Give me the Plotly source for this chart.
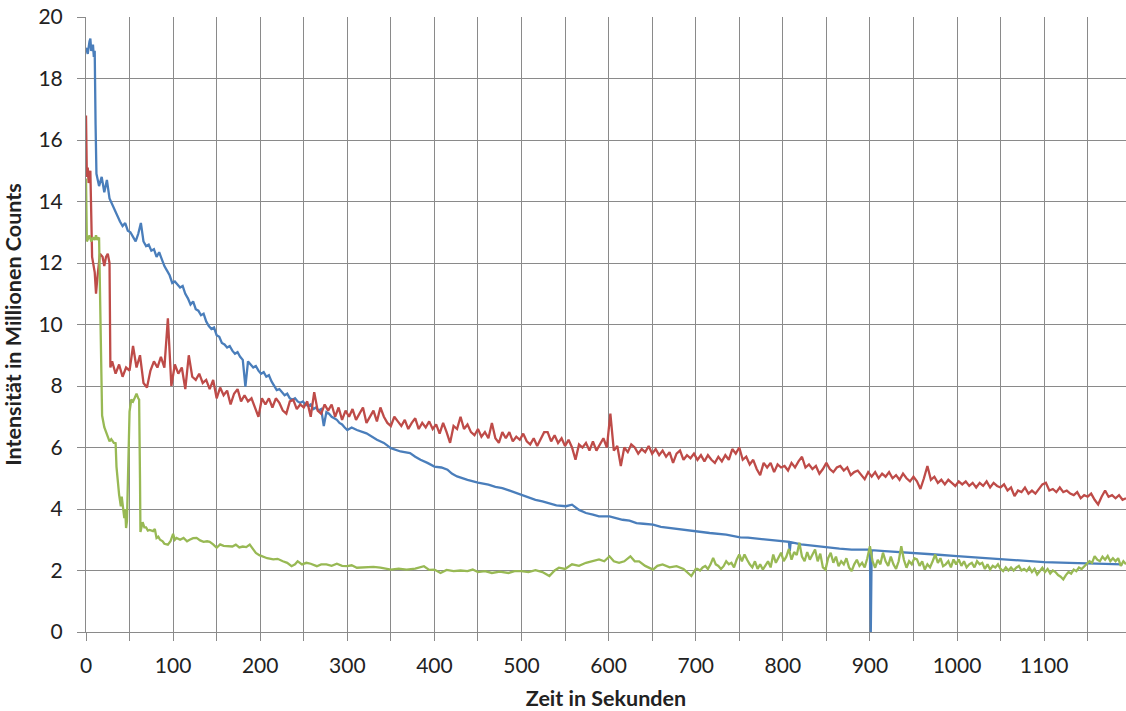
import plotly.graph_objects as go

# ---------------- Blue series (time in s, intensity in million counts) ----------------
blue_early_t = [0, 2, 4, 5, 6, 8, 9, 10, 11]
blue_early_v = [19.0, 18.8, 19.2, 19.3, 18.9, 19.1, 18.7, 18.9, 16.5]
blue_mid_t = list(range(12, 301, 3))
blue_mid_v = [14.9, 14.5, 14.8, 14.3, 14.7, 14.1, 13.9, 13.7, 13.5, 13.35, 13.2, 13.3, 13.05, 13.0, 12.85, 12.7, 12.95, 13.3, 12.7, 12.55,
              12.6, 12.4, 12.45, 12.2, 12.35, 12.1, 11.9, 11.75, 11.6, 11.35, 11.4, 11.3, 11.2, 11.25, 11.0, 10.85, 10.65, 10.75, 10.5, 10.45,
              10.3, 10.35, 10.1, 9.95, 9.85, 9.9, 9.65, 9.6, 9.4, 9.35, 9.25, 9.3, 9.15, 9.05, 9.1, 8.95, 8.85, 7.98, 8.8, 8.7,
              8.6, 8.65, 8.5, 8.4, 8.45, 8.3, 8.35, 8.15, 8.0, 7.87, 7.9, 7.8, 7.7, 7.75, 7.6, 7.55, 7.6, 7.5, 7.45, 7.5,
              7.4, 7.35, 7.4, 7.25, 7.3, 7.2, 7.25, 6.7, 7.15, 7.1, 7.0, 6.95, 6.9, 6.8, 6.75, 6.65, 6.57]
blue_late_t = [305, 311, 322, 328, 334, 342, 350, 361, 372, 378, 384, 392, 400, 408, 415, 420, 426, 438, 444, 450, 462, 470, 478, 489,
               500, 508, 516, 524, 531, 540, 551, 558, 566, 574, 582, 589, 601, 608, 616, 624, 632, 640, 651, 660, 670, 685, 701, 716,
               735, 744, 751, 760, 770, 783, 800, 807, 808, 809, 821, 835, 850, 865, 879, 890, 900, 901, 902, 917, 935, 950, 975, 1000,
               1015, 1029, 1050, 1075, 1100, 1129, 1151, 1167, 1190]
blue_late_v = [6.65, 6.57, 6.46, 6.35, 6.25, 6.15, 5.98, 5.87, 5.82, 5.7, 5.6, 5.5, 5.38, 5.35, 5.28, 5.15, 5.06, 4.95, 4.9, 4.86, 4.79, 4.72, 4.68, 4.57,
               4.46, 4.38, 4.3, 4.25, 4.19, 4.12, 4.09, 4.14, 3.97, 3.87, 3.82, 3.76, 3.76, 3.7, 3.65, 3.62, 3.54, 3.52, 3.49, 3.42, 3.38, 3.33, 3.28, 3.22,
               3.17, 3.12, 3.08, 3.07, 3.04, 3.01, 2.96, 2.93, 2.63, 2.92, 2.85, 2.8, 2.74, 2.71, 2.68, 2.67, 2.68, 0.0, 2.66, 2.63, 2.6, 2.58, 2.52, 2.47,
               2.44, 2.41, 2.38, 2.34, 2.27, 2.25, 2.23, 2.22, 2.2]

# ---------------- Red series ----------------
red_early_t = [0, 1, 2, 3, 5, 6, 7, 10, 11.5, 13, 16, 19, 21, 23, 25, 27, 28]
red_early_v = [16.8, 14.8, 15.1, 14.6, 15.0, 14.0, 12.2, 11.7, 11.0, 11.5, 12.3, 12.2, 11.9, 12.2, 12.3, 12.0, 8.6]
red_main_t = list(range(30, 1195, 4))
red_main_v = [8.8, 8.4, 8.7, 8.3, 8.6, 8.5, 9.3, 8.6, 9.0, 8.1, 7.95, 8.5, 8.8, 8.6, 8.95, 8.6, 10.2, 8.0, 8.7, 8.4, 8.6, 7.9, 9.0, 8.3, 8.2,
              8.4, 8.1, 8.2, 7.9, 8.2, 7.6, 7.95, 7.7, 7.85, 7.4, 7.75, 7.9, 7.5, 7.7, 7.5, 7.6, 7.3, 7.0, 7.6, 7.4, 7.6, 7.3, 7.6, 7.45, 7.2,
              7.1, 7.5, 7.55, 7.25, 7.4, 7.3, 7.5, 7.0, 7.8, 7.2, 7.1, 7.4, 7.2, 7.4, 7.0, 7.3, 6.9, 7.2, 7.0, 7.25, 6.9, 7.1, 7.3, 6.8, 7.0,
              7.2, 6.85, 7.3, 7.0, 6.8, 6.7, 7.0, 6.85, 6.7, 6.9, 6.6, 6.8, 6.95, 6.6, 6.8, 6.65, 6.85, 6.6, 6.75, 6.45, 6.8, 6.5, 6.15, 6.7, 6.6,
              7.0, 6.6, 6.75, 6.5, 6.4, 6.6, 6.35, 6.5, 6.3, 6.8, 6.3, 6.15, 6.5, 6.3, 6.5, 6.2, 6.35, 6.25, 6.45, 6.2, 6.1, 6.3, 6.05, 6.3, 6.5,
              6.5, 6.2, 6.4, 6.15, 6.3, 6.05, 6.25, 6.0, 5.6, 6.1, 6.0, 6.15, 5.9, 6.2, 5.9, 6.1, 6.3, 6.0, 7.1, 5.9, 6.05, 5.4, 6.0, 5.85, 6.1,
              6.0, 5.8, 5.95, 5.85, 6.05, 5.8, 5.95, 5.75, 5.9, 5.7, 5.85, 5.5, 5.8, 5.9, 5.6, 5.75, 5.65, 5.8, 5.6, 5.75, 5.55, 5.75, 5.6, 5.5, 5.7,
              5.55, 5.75, 5.6, 5.95, 5.8, 6.0, 5.6, 5.7, 5.45, 5.6, 5.3, 5.1, 5.5, 5.35, 5.5, 5.2, 5.45, 5.35, 5.4, 5.25, 5.5, 5.35, 5.55, 5.7, 5.35,
              5.45, 5.3, 5.4, 5.15, 5.3, 5.5, 5.3, 5.2, 5.35, 5.4, 5.25, 5.35, 5.1, 5.2, 5.25, 5.1, 4.97, 5.2, 5.05, 5.2, 5.0, 5.15, 5.05, 5.2, 5.0,
              5.1, 4.95, 5.15, 5.0, 4.9, 5.05, 4.9, 4.65, 5.0, 5.4, 4.95, 5.05, 4.85, 4.95, 4.8, 4.95, 4.85, 4.75, 4.9, 4.8, 4.9, 4.75, 4.85, 4.7, 4.85,
              4.75, 4.9, 4.7, 4.85, 4.75, 4.7, 4.8, 4.6, 4.7, 4.42, 4.6, 4.55, 4.7, 4.5, 4.6, 4.5, 4.65, 4.8, 4.85, 4.6, 4.65, 4.55, 4.7, 4.55, 4.6,
              4.5, 4.45, 4.55, 4.35, 4.45, 4.4, 4.5, 4.3, 4.15, 4.4, 4.6, 4.4, 4.45, 4.35, 4.45, 4.3, 4.35]

# ---------------- Green series ----------------
green_early_t = [0, 1, 4, 6, 8, 10, 11.5, 13, 15, 16, 17, 18.5, 21, 23, 25, 27, 29, 32, 34, 35, 38, 40, 41, 42, 44, 45, 46, 47, 48.5, 50,
                 52, 54, 56, 58, 60, 61, 62, 62.5, 65, 67, 69, 71, 73, 77, 79, 81, 83, 85, 88, 90, 94, 97, 100, 102, 104, 108, 112, 116,
                 119, 123, 127, 131, 135, 139, 142, 146, 150, 154, 158, 163, 168, 172, 176, 180, 184, 188, 192, 195, 199, 203, 208, 215,
                 220, 226, 231, 236, 240, 243, 248, 253, 258, 265, 270, 276, 282, 288, 294, 300, 305, 311, 316, 322, 330, 338, 344, 350,
                 359, 368, 378, 388, 394, 400, 407, 414, 422, 430, 438, 444, 450, 458, 466, 475, 485, 492, 500, 508, 516, 524, 532, 538,
                 543, 550, 558, 566, 574, 582, 589, 595, 601, 606, 612, 618, 625, 630, 635, 642, 651, 656, 662, 670, 678, 686, 695, 700]
green_early_v = [14.75, 12.7, 12.9, 12.7, 12.83, 12.75, 12.9, 12.75, 12.83, 11.5, 9.6, 7.04, 6.66, 6.5, 6.4, 6.2, 6.27, 6.15, 6.14, 5.37,
                 4.47, 4.09, 4.4, 4.2, 3.7, 4.0, 3.38, 3.6, 5.89, 7.17, 7.56, 7.5, 7.62, 7.75, 7.6, 7.56, 5.0, 3.25, 3.57, 3.4, 3.4, 3.3,
                 3.32, 3.28, 3.35, 3.06, 3.1, 3.0, 2.95, 2.87, 2.84, 2.95, 3.19, 3.0, 3.06, 3.0, 3.06, 2.95, 3.0, 3.05, 3.06, 2.98, 2.93,
                 2.95, 2.93, 2.85, 2.74, 2.85, 2.8, 2.8, 2.78, 2.84, 2.75, 2.78, 2.76, 2.84, 2.7, 2.57, 2.5, 2.46, 2.4, 2.36, 2.38, 2.3,
                 2.25, 2.14, 2.2, 2.3, 2.2, 2.25, 2.22, 2.14, 2.2, 2.2, 2.15, 2.22, 2.15, 2.14, 2.17, 2.09, 2.1, 2.09, 2.12, 2.09, 2.06,
                 2.03, 2.06, 2.03, 2.06, 2.14, 2.02, 2.03, 1.92, 2.02, 1.98, 2.0, 1.98, 2.03, 1.95, 1.98, 1.92, 1.96, 1.92, 1.98, 1.98,
                 1.95, 2.01, 1.95, 1.82, 2.0, 2.09, 2.05, 2.2, 2.15, 2.25, 2.3, 2.36, 2.3, 2.46, 2.3, 2.25, 2.3, 2.46, 2.3, 2.3, 2.15,
                 2.03, 2.15, 2.2, 2.1, 2.14, 2.05, 1.82, 2.05]
green_late_t = list(range(702, 1195, 3))
green_late_v = [2.05, 2.0, 2.1, 2.15, 2.05, 2.2, 2.41, 2.2, 2.15, 2.05, 2.14, 2.3, 2.2, 2.25, 2.1, 2.35, 2.52, 2.3, 2.52, 2.35,
                2.2, 2.1, 2.3, 2.05, 2.2, 2.03, 2.15, 2.3, 2.1, 2.52, 2.25, 2.4, 2.58, 2.3, 2.45, 2.7, 2.35, 2.6, 2.5, 2.9,
                2.45, 2.3, 2.6, 2.35, 2.5, 2.68, 2.3, 2.55, 2.1, 2.03, 2.4, 2.58, 2.25, 2.45, 2.14, 2.3, 2.2, 2.4, 2.1, 1.98,
                2.2, 2.35, 2.15, 2.25, 2.1, 2.4, 2.79, 2.3, 2.09, 2.35, 2.2, 2.58, 2.3, 2.15, 2.45, 2.2, 2.05, 2.3, 2.79, 2.35,
                2.09, 2.3, 2.2, 2.4, 2.36, 2.15, 2.3, 2.03, 2.2, 2.1, 2.3, 2.52, 2.25, 2.4, 2.14, 2.2, 2.3, 2.1, 2.36, 2.2,
                2.36, 2.15, 2.3, 2.1, 2.2, 2.25, 2.1, 2.3, 2.2, 2.25, 2.05, 2.2, 2.03, 2.15, 2.1, 2.2, 2.05, 1.98, 2.1, 2.0,
                2.1, 2.0, 2.09, 2.15, 2.0, 2.05, 1.98, 2.1, 1.95, 2.05, 1.87, 2.0, 2.09, 1.95, 2.05, 1.9, 2.0, 1.95, 1.85, 1.8,
                1.71, 1.85, 1.95, 1.9, 2.03, 1.98, 2.1, 2.05, 2.14, 2.2, 2.3, 2.25, 2.47, 2.35, 2.3, 2.45, 2.35, 2.47, 2.3, 2.4,
                2.3, 2.4, 2.15, 2.3, 2.2]

blue_t = blue_early_t + blue_mid_t + blue_late_t
blue_v = blue_early_v + blue_mid_v + blue_late_v
red_t = red_early_t + red_main_t
red_v = red_early_v + red_main_v
green_t = green_early_t + green_late_t
green_v = green_early_v + green_late_v

x_tickvals = [0, 100, 200, 300, 400, 500, 600, 700, 800, 900, 1000, 1100]
y_tickvals = [0, 2, 4, 6, 8, 10, 12, 14, 16, 18, 20]

FONT = "Lato"
GRID = "#8a8a8a"
TXT = "#222222"
LW = 2.3

fig = go.Figure()
fig.add_trace(go.Scatter(x=blue_t, y=blue_v, mode="lines",
                         line=dict(color="#4A7EBB", width=LW), showlegend=False))
fig.add_trace(go.Scatter(x=red_t, y=red_v, mode="lines",
                         line=dict(color="#BE4B48", width=LW), showlegend=False))
fig.add_trace(go.Scatter(x=green_t, y=green_v, mode="lines",
                         line=dict(color="#98B954", width=LW), showlegend=False))

fig.update_layout(
    width=1126, height=711,
    margin=dict(l=86, r=0, t=17, b=79),
    paper_bgcolor="white", plot_bgcolor="white",
    font=dict(family=FONT, color=TXT),
    showlegend=False,
)
fig.update_xaxes(
    range=[0, 1194], tickmode="array", tickvals=x_tickvals,
    ticktext=[str(v) for v in x_tickvals],
    tickfont=dict(size=21, family=FONT, color=TXT),
    showgrid=True, gridcolor=GRID, gridwidth=1,
    ticks="outside", ticklen=8, tickcolor=GRID, tickwidth=1,
    showline=True, linecolor=GRID, linewidth=1,
    zeroline=False,
    minor=dict(dtick=50, tick0=0, showgrid=True, gridcolor=GRID, gridwidth=1,
               ticks="outside", ticklen=8, tickcolor=GRID, tickwidth=1),
    ticklabelstandoff=7,
    title=dict(text="<b>Zeit in Sekunden</b>", font=dict(size=21.5, family=FONT, color=TXT),
               standoff=14),
)
fig.update_yaxes(
    range=[0, 20], tickmode="array", tickvals=y_tickvals,
    ticktext=[str(v) for v in y_tickvals],
    tickfont=dict(size=21, family=FONT, color=TXT),
    showgrid=True, gridcolor=GRID, gridwidth=1,
    ticks="outside", ticklen=8, tickcolor=GRID, tickwidth=1,
    showline=True, linecolor=GRID, linewidth=1,
    zeroline=False,
    ticklabelstandoff=10,
    title=dict(text="<b>Intensität in Millionen Counts</b>", font=dict(size=21.5, family=FONT, color=TXT),
               standoff=14),
)

fig.write_html("out.html")
